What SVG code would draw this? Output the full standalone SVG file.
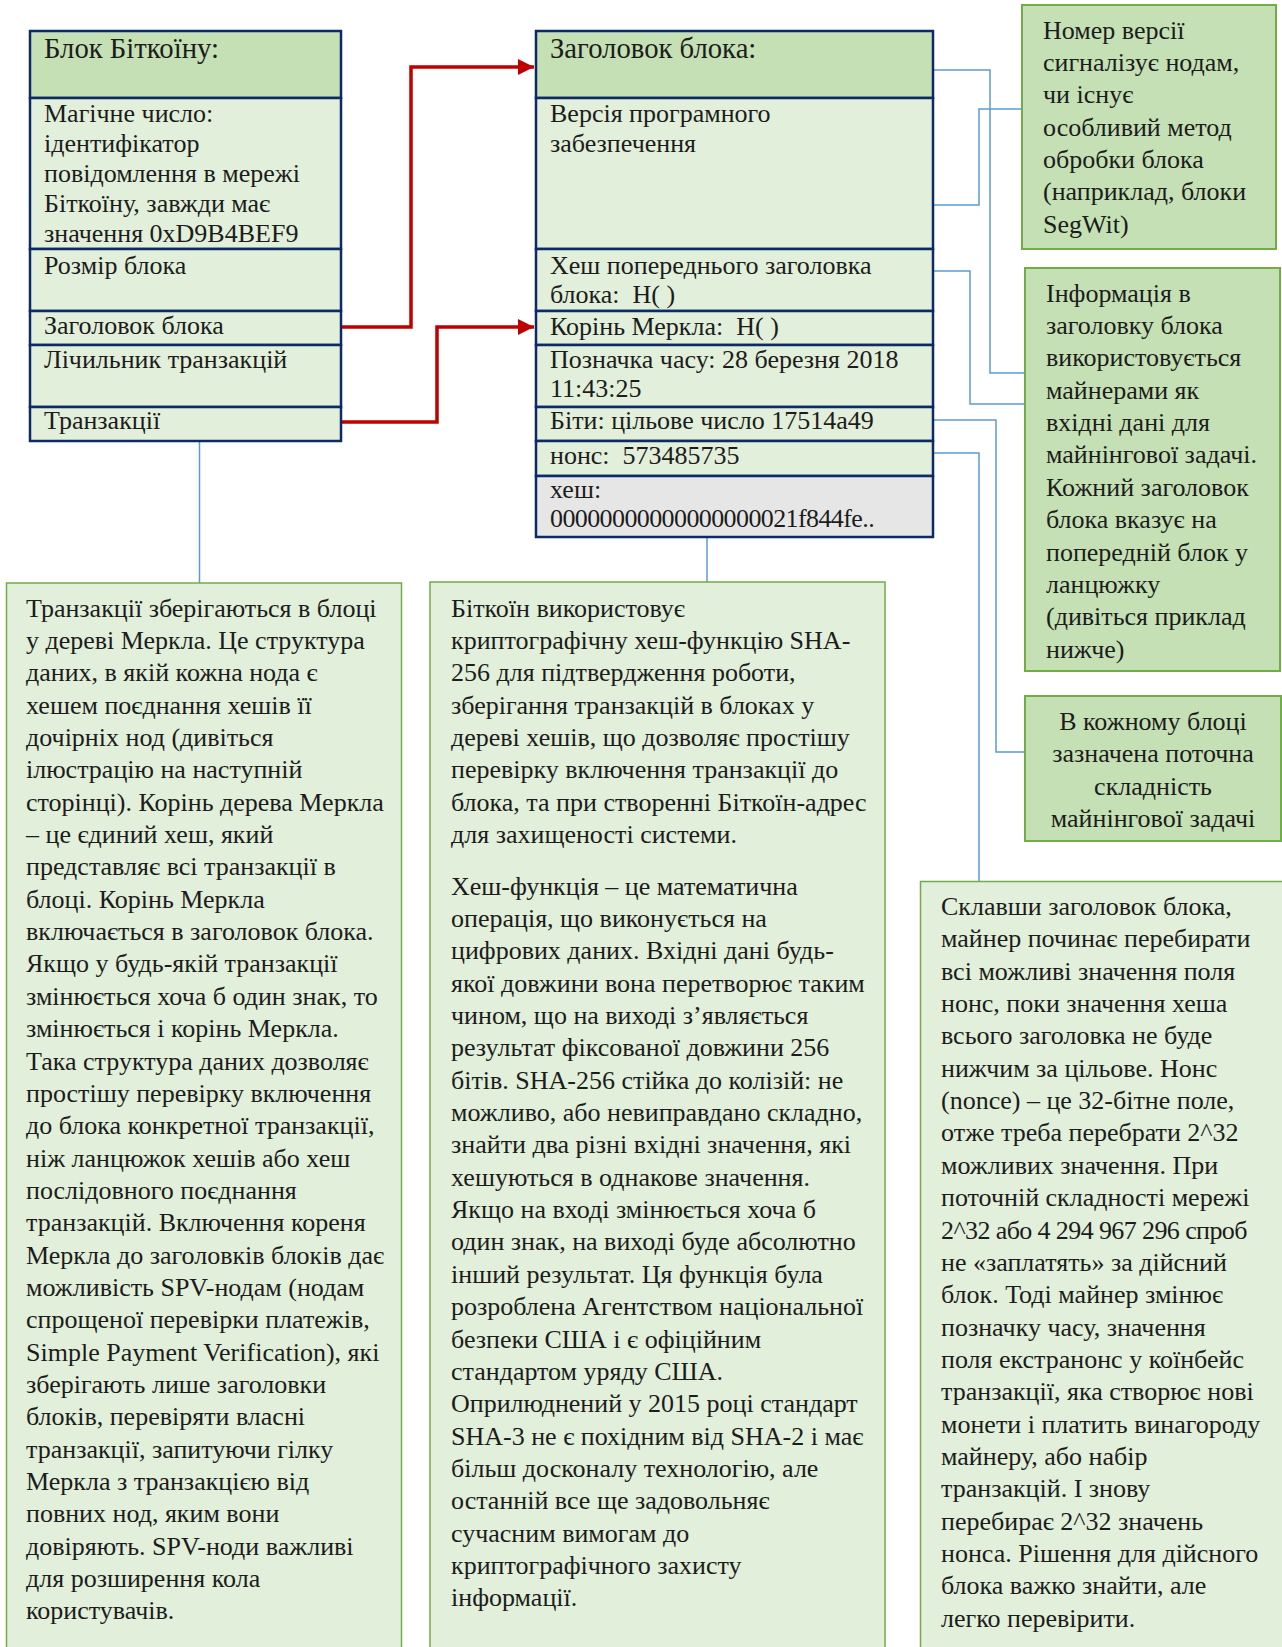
<svg xmlns="http://www.w3.org/2000/svg" width="1282" height="1647" viewBox="0 0 1282 1647">
<defs>
<style>
.t{font-family:"Liberation Serif","Times New Roman",serif;font-size:26px;fill:#1c1c1c}
.h{font-size:28.7px}
.pre{white-space:pre}
.num{letter-spacing:-0.6px}
.hdr{fill:#C5E0B4;stroke:#0B2A66;stroke-width:2.5}
.cell{fill:#E2EFDA;stroke:#0B2A66;stroke-width:2.5}
.gray{fill:#E7E6E6;stroke:#0B2A66;stroke-width:2.5}
.note{fill:#C5E0B4;stroke:#70AD47;stroke-width:2}
.big{fill:#E2EFDA;stroke:#70AD47;stroke-width:1.5}
.blue{fill:none;stroke:#5B9BD5;stroke-width:1.5}
.red{fill:none;stroke:#C00000;stroke-width:3.5}
</style>
<marker id="ah" markerUnits="userSpaceOnUse" markerWidth="17" markerHeight="16" refX="16" refY="8" orient="auto">
<path d="M0,0 L16,8 L0,16 z" fill="#C00000"/>
</marker>
</defs>
<rect width="1282" height="1647" fill="#ffffff"/>

<g id="connectors">
<path class="red" d="M341,327 H411 V67 H534" marker-end="url(#ah)"/>
<path class="red" d="M341,422 H437 V327 H534" marker-end="url(#ah)"/>
<path class="blue" d="M933,70 H990 V373 H1025"/>
<path class="blue" d="M933,205 H979 V109 H1022"/>
<path class="blue" d="M933,271 H970 V404 H1025"/>
<path class="blue" d="M933,420 H996 V752 H1026"/>
<path class="blue" d="M933,453 H979 V881"/>
<path class="blue" d="M199.5,441 V583"/>
<path class="blue" d="M707,537 V582"/>
</g>

<g id="bitcoin-block">
<rect class="hdr" x="30" y="31" width="311" height="67"/>
<rect class="cell" x="30" y="98" width="311" height="151"/>
<rect class="cell" x="30" y="249" width="311" height="62"/>
<rect class="cell" x="30" y="311" width="311" height="34"/>
<rect class="cell" x="30" y="345" width="311" height="62"/>
<rect class="cell" x="30" y="407" width="311" height="34"/>
<text class="t h" x="44" y="58">Блок Біткоїну:</text>
<text class="t" x="44" y="122">Магічне число:<tspan x="44" dy="30">ідентифікатор</tspan><tspan x="44" dy="30">повідомлення в мережі</tspan><tspan x="44" dy="30">Біткоїну, завжди має</tspan><tspan x="44" dy="30">значення 0xD9B4BEF9</tspan></text>
<text class="t" x="44" y="274">Розмір блока</text>
<text class="t" x="44" y="334">Заголовок блока</text>
<text class="t" x="44" y="368">Лічильник транзакцій</text>
<text class="t" x="44" y="429">Транзакції</text>
</g>

<g id="block-header">
<rect class="hdr" x="536" y="31" width="397" height="67"/>
<rect class="cell" x="536" y="98" width="397" height="151"/>
<rect class="cell" x="536" y="249" width="397" height="62"/>
<rect class="cell" x="536" y="311" width="397" height="34"/>
<rect class="cell" x="536" y="345" width="397" height="62"/>
<rect class="cell" x="536" y="407" width="397" height="34"/>
<rect class="cell" x="536" y="441" width="397" height="35"/>
<rect class="gray" x="536" y="476" width="397" height="61"/>
<text class="t h" x="550" y="58">Заголовок блока:</text>
<text class="t" x="550" y="122">Версія програмного<tspan x="550" dy="30">забезпечення</tspan></text>
<text class="t pre" x="550" y="274">Хеш попереднього заголовка<tspan x="550" dy="29">блока:  H( )</tspan></text>
<text class="t pre" x="550" y="335">Корінь Меркла:  H( )</text>
<text class="t" x="550" y="368">Позначка часу: 28 березня 2018<tspan x="550" dy="29">11:43:25</tspan></text>
<text class="t" x="550" y="429">Біти: цільове число 17514a49</text>
<text class="t pre" x="550" y="464">нонс:  573485735</text>
<text class="t" x="550" y="498">хеш:<tspan class="num" x="550" dy="29">00000000000000000021f844fe..</tspan></text>
</g>

<g id="note-version">
<rect class="note" x="1022" y="5" width="254" height="244"/>
<text class="t" x="1043" y="38.5">Номер версії<tspan x="1043" dy="32.35">сигналізує нодам,</tspan><tspan x="1043" dy="32.35">чи існує</tspan><tspan x="1043" dy="32.35">особливий метод</tspan><tspan x="1043" dy="32.35">обробки блока</tspan><tspan x="1043" dy="32.35">(наприклад, блоки</tspan><tspan x="1043" dy="32.35">SegWit)</tspan></text>
</g>

<g id="note-header-info">
<rect class="note" x="1025" y="268" width="255" height="403"/>
<text class="t" x="1046" y="301.7">Інформація в<tspan x="1046" dy="32.35">заголовку блока</tspan><tspan x="1046" dy="32.35">використовується</tspan><tspan x="1046" dy="32.35">майнерами як</tspan><tspan x="1046" dy="32.35">вхідні дані для</tspan><tspan x="1046" dy="32.35">майнінгової задачі.</tspan><tspan x="1046" dy="32.35">Кожний заголовок</tspan><tspan x="1046" dy="32.35">блока вказує на</tspan><tspan x="1046" dy="32.35">попередній блок у</tspan><tspan x="1046" dy="32.35">ланцюжку</tspan><tspan x="1046" dy="32.35">(дивіться приклад</tspan><tspan x="1046" dy="32.35">нижче)</tspan></text>
</g>

<g id="note-difficulty">
<rect class="note" x="1025" y="696" width="256" height="145"/>
<text class="t" text-anchor="middle" x="1153" y="730">В кожному блоці<tspan x="1153" dy="32.35">зазначена поточна</tspan><tspan x="1153" dy="32.35">складність</tspan><tspan x="1153" dy="32.35">майнінгової задачі</tspan></text>
</g>

<g id="note-transactions">
<rect class="big" x="6.5" y="583" width="395" height="1080"/>
<text class="t" x="26" y="616.6">Транзакції зберігаються в блоці<tspan x="26" dy="32.35">у дереві Меркла. Це структура</tspan><tspan x="26" dy="32.35">даних, в якій кожна нода є</tspan><tspan x="26" dy="32.35">хешем поєднання хешів її</tspan><tspan x="26" dy="32.35">дочірніх нод (дивіться</tspan><tspan x="26" dy="32.35">ілюстрацію на наступній</tspan><tspan x="26" dy="32.35">сторінці). Корінь дерева Меркла</tspan><tspan x="26" dy="32.35">– це єдиний хеш, який</tspan><tspan x="26" dy="32.35">представляє всі транзакції в</tspan><tspan x="26" dy="32.35">блоці. Корінь Меркла</tspan><tspan x="26" dy="32.35">включається в заголовок блока.</tspan><tspan x="26" dy="32.35">Якщо у будь-якій транзакції</tspan><tspan x="26" dy="32.35">змінюється хоча б один знак, то</tspan><tspan x="26" dy="32.35">змінюється і корінь Меркла.</tspan><tspan x="26" dy="32.35">Така структура даних дозволяє</tspan><tspan x="26" dy="32.35">простішу перевірку включення</tspan><tspan x="26" dy="32.35">до блока конкретної транзакції,</tspan><tspan x="26" dy="32.35">ніж ланцюжок хешів або хеш</tspan><tspan x="26" dy="32.35">послідовного поєднання</tspan><tspan x="26" dy="32.35">транзакцій. Включення кореня</tspan><tspan x="26" dy="32.35">Меркла до заголовків блоків дає</tspan><tspan x="26" dy="32.35">можливість SPV-нодам (нодам</tspan><tspan x="26" dy="32.35">спрощеної перевірки платежів,</tspan><tspan x="26" dy="32.35">Simple Payment Verification), які</tspan><tspan x="26" dy="32.35">зберігають лише заголовки</tspan><tspan x="26" dy="32.35">блоків, перевіряти власні</tspan><tspan x="26" dy="32.35">транзакції, запитуючи гілку</tspan><tspan x="26" dy="32.35">Меркла з транзакцією від</tspan><tspan x="26" dy="32.35">повних нод, яким вони</tspan><tspan x="26" dy="32.35">довіряють. SPV-ноди важливі</tspan><tspan x="26" dy="32.35">для розширення кола</tspan><tspan x="26" dy="32.35">користувачів.</tspan></text>
</g>

<g id="note-sha256">
<rect class="big" x="430" y="582" width="455" height="1080"/>
<text class="t" x="451" y="616.6">Біткоїн використовує<tspan x="451" dy="32.35">криптографічну хеш-функцію SHA-</tspan><tspan x="451" dy="32.35">256 для підтвердження роботи,</tspan><tspan x="451" dy="32.35">зберігання транзакцій в блоках у</tspan><tspan x="451" dy="32.35">дереві хешів, що дозволяє простішу</tspan><tspan x="451" dy="32.35">перевірку включення транзакції до</tspan><tspan x="451" dy="32.35">блока, та при створенні Біткоїн-адрес</tspan><tspan x="451" dy="32.35">для захищеності системи.</tspan></text>
<text class="t" x="451" y="894.6">Хеш-функція – це математична<tspan x="451" dy="32.35">операція, що виконується на</tspan><tspan x="451" dy="32.35">цифрових даних. Вхідні дані будь-</tspan><tspan x="451" dy="32.35">якої довжини вона перетворює таким</tspan><tspan x="451" dy="32.35">чином, що на виході з’являється</tspan><tspan x="451" dy="32.35">результат фіксованої довжини 256</tspan><tspan x="451" dy="32.35">бітів. SHA-256 стійка до колізій: не</tspan><tspan x="451" dy="32.35">можливо, або невиправдано складно,</tspan><tspan x="451" dy="32.35">знайти два різні вхідні значення, які</tspan><tspan x="451" dy="32.35">хешуються в однакове значення.</tspan><tspan x="451" dy="32.35">Якщо на вході змінюється хоча б</tspan><tspan x="451" dy="32.35">один знак, на виході буде абсолютно</tspan><tspan x="451" dy="32.35">інший результат. Ця функція була</tspan><tspan x="451" dy="32.35">розроблена Агентством національної</tspan><tspan x="451" dy="32.35">безпеки США і є офіційним</tspan><tspan x="451" dy="32.35">стандартом уряду США.</tspan><tspan x="451" dy="32.35">Оприлюднений у 2015 році стандарт</tspan><tspan x="451" dy="32.35">SHA-3 не є похідним від SHA-2 і має</tspan><tspan x="451" dy="32.35">більш досконалу технологію, але</tspan><tspan x="451" dy="32.35">останній все ще задовольняє</tspan><tspan x="451" dy="32.35">сучасним вимогам до</tspan><tspan x="451" dy="32.35">криптографічного захисту</tspan><tspan x="451" dy="32.35">інформації.</tspan></text>
</g>

<g id="note-mining">
<rect class="big" x="920.5" y="881.5" width="370" height="780"/>
<text class="t" x="941" y="915">Склавши заголовок блока,<tspan x="941" dy="32.35">майнер починає перебирати</tspan><tspan x="941" dy="32.35">всі можливі значення поля</tspan><tspan x="941" dy="32.35">нонс, поки значення хеша</tspan><tspan x="941" dy="32.35">всього заголовка не буде</tspan><tspan x="941" dy="32.35">нижчим за цільове. Нонс</tspan><tspan x="941" dy="32.35">(nonce) – це 32-бітне поле,</tspan><tspan x="941" dy="32.35">отже треба перебрати 2^32</tspan><tspan x="941" dy="32.35">можливих значення. При</tspan><tspan x="941" dy="32.35">поточній складності мережі</tspan><tspan class="num" x="941" dy="32.35">2^32 або 4 294 967 296 спроб</tspan><tspan x="941" dy="32.35">не «заплатять» за дійсний</tspan><tspan x="941" dy="32.35">блок. Тоді майнер змінює</tspan><tspan x="941" dy="32.35">позначку часу, значення</tspan><tspan x="941" dy="32.35">поля екстранонс у коїнбейс</tspan><tspan x="941" dy="32.35">транзакції, яка створює нові</tspan><tspan x="941" dy="32.35">монети і платить винагороду</tspan><tspan x="941" dy="32.35">майнеру, або набір</tspan><tspan x="941" dy="32.35">транзакцій. І знову</tspan><tspan x="941" dy="32.35">перебирає 2^32 значень</tspan><tspan x="941" dy="32.35">нонса. Рішення для дійсного</tspan><tspan x="941" dy="32.35">блока важко знайти, але</tspan><tspan x="941" dy="32.35">легко перевірити.</tspan></text>
</g>
</svg>
